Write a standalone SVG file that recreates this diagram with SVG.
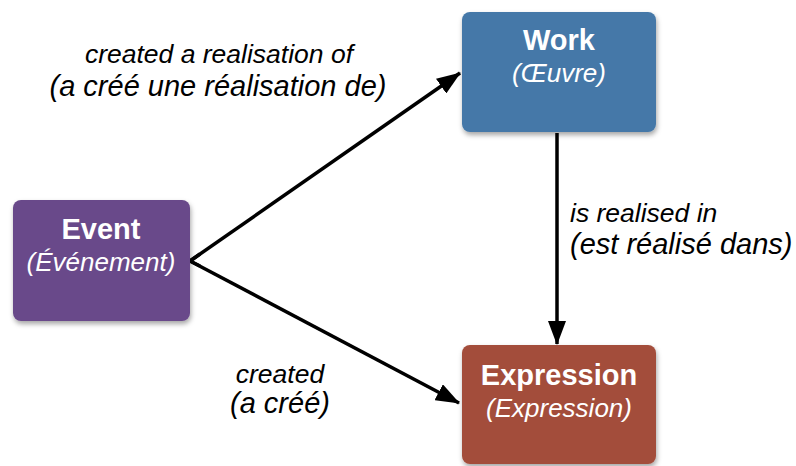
<svg xmlns="http://www.w3.org/2000/svg" width="796" height="466" viewBox="0 0 796 466">
<defs>
<filter id="sh" x="-10%" y="-10%" width="125%" height="130%">
<feDropShadow dx="1" dy="3" stdDeviation="2.5" flood-color="#000" flood-opacity="0.35"/>
</filter>
<marker id="ah2" viewBox="0 0 24 18" refX="23" refY="9" markerWidth="24" markerHeight="18" markerUnits="userSpaceOnUse" orient="auto">
<path d="M0,0 L24,9 L0,18 z" fill="#000"/>
</marker>
</defs>
<style>
.t{font-family:"Liberation Sans",Arial,sans-serif;font-weight:bold;font-size:29px;fill:#fff;text-anchor:middle}
.s{font-family:"Liberation Sans",Arial,sans-serif;font-style:italic;font-size:26px;fill:#fff;text-anchor:middle}
.l1{font-family:"Liberation Sans",Arial,sans-serif;font-style:italic;font-size:26.5px;fill:#000}
.l2{font-family:"Liberation Sans",Arial,sans-serif;font-style:italic;font-size:29px;fill:#000}
.e{stroke:#000;stroke-width:3.5;fill:none;marker-end:url(#ah2)}
</style>
<g id="connectors">
<path class="e" d="M190,261 L460,73"/>
<path class="e" d="M190,261 L459,403"/>
<path class="e" d="M557,133 L557,344"/>
<path d="M190,261 L200,254 M190,261 L200,266" stroke="#000" stroke-width="3.5" fill="none" stroke-linejoin="miter"/>
<text class="l1" x="219" y="63" text-anchor="middle">created a realisation of</text>
<text class="l2" x="218" y="96" text-anchor="middle">(a créé une réalisation de)</text>
<text class="l1" x="570" y="222">is realised in</text>
<text class="l2" x="570" y="254">(est réalisé dans)</text>
<text class="l1" x="280" y="383" text-anchor="middle">created</text>
<text class="l2" x="280" y="413" text-anchor="middle">(a créé)</text>
</g>
<g id="event">
<rect x="13" y="200" width="177" height="121" rx="8" fill="#694a8a" filter="url(#sh)"/>
<text class="t" x="101" y="239">Event</text>
<text class="s" x="101" y="271">(Événement)</text>
</g>
<g id="work">
<rect x="462" y="12" width="194" height="120" rx="8" fill="#4578a8" filter="url(#sh)"/>
<text class="t" x="559" y="50">Work</text>
<text class="s" x="559" y="82">(Œuvre)</text>
</g>
<g id="expression">
<rect x="462" y="345" width="194" height="119" rx="8" fill="#a34d3a" filter="url(#sh)"/>
<text class="t" x="559" y="385">Expression</text>
<text class="s" x="559" y="417">(Expression)</text>
</g>
</svg>
